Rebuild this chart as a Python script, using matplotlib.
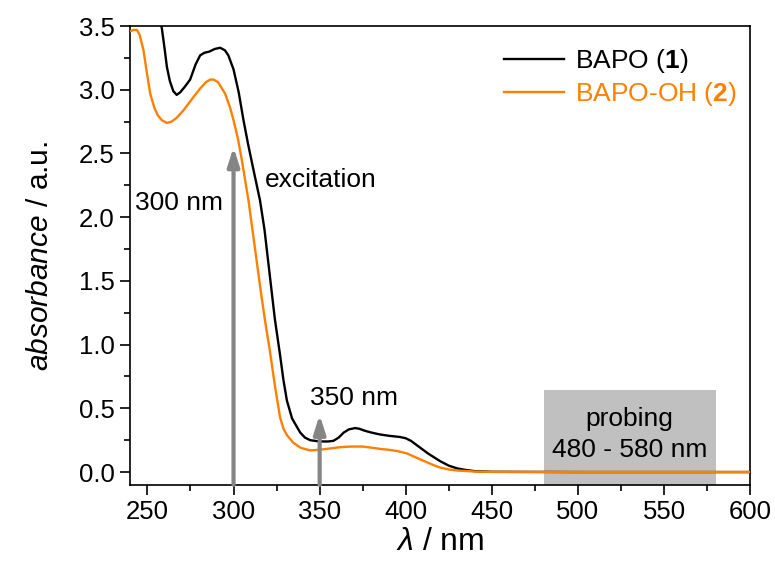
import numpy as np
import matplotlib
matplotlib.use("Agg")
import matplotlib.pyplot as plt
from matplotlib.ticker import MultipleLocator

plt.rcParams['font.family'] = ['Liberation Sans', 'DejaVu Sans']
plt.rcParams['mathtext.fontset'] = 'custom'
plt.rcParams['mathtext.rm'] = 'Liberation Sans'
plt.rcParams['mathtext.it'] = 'Liberation Sans:italic'
plt.rcParams['mathtext.bf'] = 'Liberation Sans:bold'

# BAPO (1)
wl_bapo = [256.5, 258.4, 260, 261.3, 263, 265, 267, 269, 271.5, 274.8, 278, 280.6, 283,
           286, 289, 292.2, 295, 297, 300, 303, 305.8, 308.5, 311.6, 315.4, 318, 321,
           324, 327, 329, 331, 334, 338.7, 341.5, 344.5, 350, 355, 358, 361, 364, 367,
           370.6, 373, 376, 380, 385, 390, 396.7, 400, 403, 406, 410, 413, 415.9, 420,
           425, 430, 435, 440, 450, 500, 600]
abs_bapo = [3.6, 3.48, 3.32, 3.18, 3.07, 2.99, 2.96, 2.98, 3.02, 3.08, 3.2, 3.27, 3.29,
            3.30, 3.32, 3.33, 3.31, 3.27, 3.16, 2.98, 2.76, 2.57, 2.37, 2.13, 1.9, 1.55,
            1.2, 0.92, 0.72, 0.56, 0.42, 0.31, 0.27, 0.25, 0.24, 0.24, 0.245, 0.27, 0.31,
            0.335, 0.345, 0.34, 0.325, 0.31, 0.295, 0.285, 0.275, 0.265, 0.245, 0.215,
            0.175, 0.145, 0.12, 0.085, 0.05, 0.028, 0.016, 0.007, 0.002, 0.0, 0.0]

# BAPO-OH (2)
wl_oh = [240, 242, 243.9, 245.5, 247.7, 249.5, 251.6, 254, 256, 258.5, 261.3, 264, 267,
         271, 276, 280.6, 284, 286.4, 288.4, 291, 295.1, 298, 300, 302.5, 304.8, 308.7,
         312, 316, 318.5, 321, 324, 327, 329, 331, 334.7, 339, 344.5, 350, 356, 362,
         367.7, 375, 380.9, 386, 390, 395, 400.5, 405, 410, 416, 420, 425, 430, 435, 440,
         450, 500, 600]
abs_oh = [3.46, 3.47, 3.47, 3.43, 3.31, 3.15, 2.97, 2.86, 2.8, 2.76, 2.74, 2.75, 2.78,
          2.84, 2.93, 3.01, 3.06, 3.08, 3.08, 3.06, 2.97, 2.86, 2.76, 2.62, 2.45, 2.13,
          1.8, 1.4, 1.17, 0.96, 0.68, 0.43, 0.34, 0.29, 0.23, 0.19, 0.17, 0.175, 0.185,
          0.195, 0.2, 0.2, 0.19, 0.18, 0.175, 0.165, 0.147, 0.12, 0.09, 0.055, 0.035,
          0.02, 0.012, 0.008, 0.004, 0.001, 0.0, 0.0]

# longitudes de onda de excitación y ventana de sondeo
exc_wl = [300, 350]
exc_top = [2.55, 0.45]
probe_range = [480, 580]
probe_top = 0.64

fig = plt.figure(figsize=(7.75, 5.67), dpi=100)
ax = fig.add_axes([0.168, 0.145, 0.8, 0.809])

naranja = '#ff7f00'
gris = '#858585'

ax.fill_between(probe_range, -0.1, probe_top, color='#c0c0c0', lw=0, zorder=1)

ax.plot(wl_bapo, abs_bapo, color='black', lw=1.7, label=r'BAPO ($\mathbf{1}$)', zorder=3)
ax.plot(wl_oh, abs_oh, color=naranja, lw=1.7, label=r'BAPO-OH ($\mathbf{2}$)', zorder=3)

for x, top in zip(exc_wl, exc_top):
    ax.annotate('', xy=(x, top), xytext=(x, -0.1),
                arrowprops=dict(arrowstyle='-|>,head_width=0.35,head_length=1.1',
                                color=gris, lw=3, shrinkA=0, shrinkB=0), zorder=4)

fs = 19
ax.text(243, 2.11, '300 nm', fontsize=fs, va='center', ha='left')
ax.text(318.4, 2.29, 'excitation', fontsize=fs, va='center', ha='left')
ax.text(344.5, 0.58, '350 nm', fontsize=fs, va='center', ha='left')
ax.text(530, 0.42, 'probing', fontsize=fs, va='center', ha='center')
ax.text(530, 0.17, '480 - 580 nm', fontsize=fs, va='center', ha='center')

ax.set_xlim(240, 600)
ax.set_ylim(-0.1, 3.5)
ax.xaxis.set_major_locator(MultipleLocator(50))
ax.xaxis.set_minor_locator(MultipleLocator(25))
ax.yaxis.set_major_locator(MultipleLocator(0.5))
ax.yaxis.set_minor_locator(MultipleLocator(0.25))
ax.yaxis.set_major_formatter(plt.FormatStrFormatter('%.1f'))
ax.tick_params(which='both', direction='out', top=False, right=False, labelsize=18.5, width=1.2)
ax.tick_params(which='major', length=7, pad=4)
ax.tick_params(which='minor', length=4)
for s in ax.spines.values():
    s.set_linewidth(1.2)

ax.set_xlabel(r'$\lambda$ / nm', fontsize=23, labelpad=2)
ax.set_ylabel(r'$\mathit{absorbance}$ / a.u.', fontsize=21.5, labelpad=18)

leg = ax.legend(loc='upper right', bbox_to_anchor=(1.008, 0.995), frameon=False,
                fontsize=19, handlelength=2.3, borderaxespad=0.3, handletextpad=0.4,
                labelspacing=0.2)
leg.get_texts()[1].set_color(naranja)

fig.savefig('out.png', dpi=100)
